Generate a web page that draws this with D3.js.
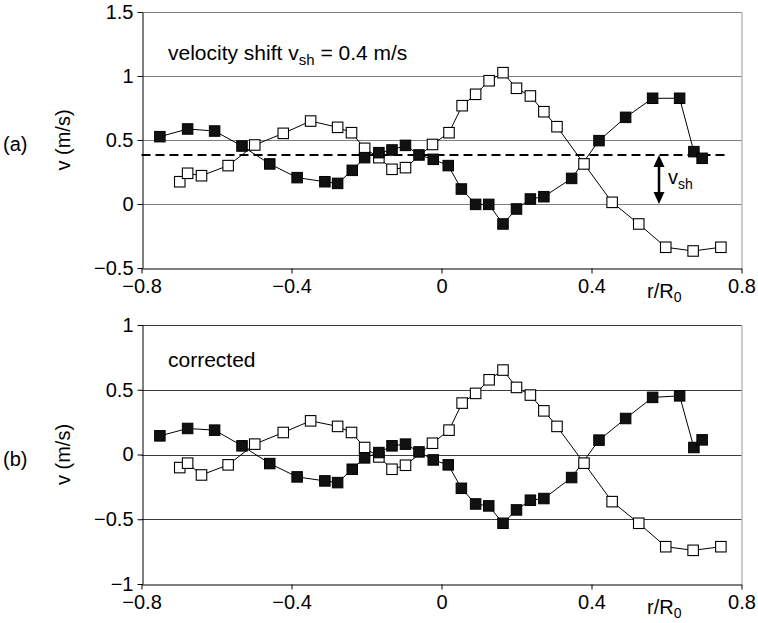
<!DOCTYPE html>
<html>
<head>
<meta charset="utf-8">
<script src="https://cdn.jsdelivr.net/npm/d3@7/dist/d3.min.js"></script>
<style>
  body { margin: 0; background: #fff; }
  svg { display: block; font-family: "Liberation Sans", Arial, sans-serif; }
</style>
</head>
<body>
<div id="chart"></div>
<script>
// r/R0 positions of the two probe series
var xFilled = [-0.751, -0.677, -0.605, -0.532, -0.458, -0.385, -0.311, -0.277, -0.238, -0.205,
  -0.167, -0.132, -0.096, -0.06, -0.022, 0.018, 0.053, 0.091, 0.126, 0.164,
  0.2, 0.237, 0.273, 0.347, 0.42, 0.491, 0.563, 0.635, 0.673, 0.695];
var xOpen = [-0.698, -0.677, -0.64, -0.569, -0.498, -0.422, -0.349, -0.277, -0.24, -0.205,
  -0.167, -0.132, -0.096, -0.024, 0.02, 0.055, 0.091, 0.127, 0.164, 0.2,
  0.237, 0.273, 0.308, 0.38, 0.455, 0.526, 0.598, 0.671, 0.745];

// (a) raw velocities
var rawFilled = [0.526, 0.586, 0.57, 0.453, 0.313, 0.206, 0.174, 0.161, 0.263, 0.362,
  0.401, 0.422, 0.458, 0.383, 0.349, 0.3, 0.117, -0.003, -0.003, -0.156,
  -0.039, 0.039, 0.057, 0.2, 0.495, 0.677, 0.826, 0.826, 0.409, 0.357];
var rawOpen = [0.174, 0.24, 0.221, 0.3, 0.461, 0.552, 0.648, 0.599, 0.557, 0.435,
  0.362, 0.271, 0.284, 0.465, 0.557, 0.768, 0.857, 0.963, 1.026, 0.904,
  0.844, 0.721, 0.604, 0.313, 0.013, -0.156, -0.338, -0.367, -0.338];

// (b) corrected velocities
var corrFilled = [0.144, 0.201, 0.188, 0.067, -0.07, -0.173, -0.204, -0.217, -0.114, -0.026,
  0.015, 0.067, 0.08, 0.02, -0.042, -0.08, -0.261, -0.382, -0.397, -0.531,
  -0.428, -0.353, -0.34, -0.178, 0.111, 0.278, 0.441, 0.453, 0.054, 0.113];
var corrOpen = [-0.101, -0.067, -0.158, -0.08, 0.08, 0.17, 0.26, 0.217, 0.17, 0.054,
  -0.019, -0.114, -0.083, 0.087, 0.188, 0.397, 0.472, 0.577, 0.652, 0.518,
  0.459, 0.337, 0.217, -0.067, -0.364, -0.531, -0.712, -0.74, -0.712];

var vShift = 0.383;
var dashedRange = [-0.8, 0.758];
var arrowX = 0.58;

var xTicks = [-0.8, -0.4, 0, 0.4, 0.8];
var yTicksA = [-0.5, 0, 0.5, 1, 1.5];
var yTicksB = [-1, -0.5, 0, 0.5, 1];

var W = 758, H = 623, FS = 20;
var svg = d3.select('#chart').append('svg')
  .attr('width', W).attr('height', H);

var fmt = function(d){ return d < 0 ? '\u2212' + Math.abs(d) : String(d); };

var x = d3.scaleLinear().domain([-0.8, 0.8]).range([141.5, 741.5]);

function drawPanel(cfg){
  var y = d3.scaleLinear().domain([cfg.yTicks[0], cfg.yTicks[cfg.yTicks.length-1]])
    .range([cfg.bottom, cfg.top]);
  var g = svg.append('g');

  // grid lines
  g.selectAll('line.grid')
    .data(cfg.yTicks.filter(function(d){ return d !== cfg.yTicks[0]; }))
    .enter().append('line')
    .attr('class', 'grid')
    .attr('x1', x(-0.8)).attr('x2', x(0.8))
    .attr('y1', function(d){ return Math.round(y(d)) + 0.5; })
    .attr('y2', function(d){ return Math.round(y(d)) + 0.5; })
    .attr('stroke', cfg.gridColor).attr('stroke-width', 1);

  // right frame
  g.append('line')
    .attr('x1', x(0.8) + 0.5).attr('x2', x(0.8) + 0.5)
    .attr('y1', y(cfg.yTicks[cfg.yTicks.length-1])).attr('y2', y(cfg.yTicks[0]))
    .attr('stroke', '#999').attr('stroke-width', 1);

  // axes
  var yAxis = d3.axisLeft(y).tickValues(cfg.yTicks).tickFormat(fmt)
    .tickSizeInner(5).tickSizeOuter(0).tickPadding(4);
  var gy = g.append('g')
    .attr('transform', 'translate(' + (Math.round(x(-0.8)) + 0.5) + ',0)')
    .call(yAxis);
  var xAxis = d3.axisBottom(x).tickValues(xTicks).tickFormat(fmt)
    .tickSizeInner(5).tickSizeOuter(0).tickPadding(5);
  var gx = g.append('g')
    .attr('transform', 'translate(0,' + (Math.round(y(cfg.yTicks[0])) + 0.5) + ')')
    .call(xAxis);
  [gx, gy].forEach(function(a){
    a.selectAll('path, line').attr('stroke', '#000');
    a.selectAll('text').attr('font-size', FS).attr('fill', '#000')
      .attr('font-family', '"Liberation Sans", Arial, sans-serif');
  });

  // r/R0 label
  var rl = g.append('text')
    .attr('x', 647).attr('y', y(cfg.yTicks[0]) + 30)
    .attr('font-size', FS);
  rl.append('tspan').text('r/R');
  rl.append('tspan').attr('font-size', 14).attr('dy', 4).text('0');

  // y label and panel letter
  var cy = y(cfg.yTicks[2]);
  g.append('text')
    .attr('transform', 'translate(70,' + cy + ') rotate(-90)')
    .attr('text-anchor', 'middle')
    .attr('font-size', FS)
    .text('v (m/s)');
  g.append('text')
    .attr('x', 3).attr('y', cy + 11)
    .attr('font-size', FS)
    .text(cfg.letter);

  if (cfg.shift) {
    g.append('line')
      .attr('x1', x(dashedRange[0])).attr('x2', x(dashedRange[1]))
      .attr('y1', y(vShift)).attr('y2', y(vShift))
      .attr('stroke', '#000').attr('stroke-width', 2)
      .attr('stroke-dasharray', '9,5');
  }

  // series
  var line = d3.line()
    .x(function(d){ return x(d[0]); })
    .y(function(d){ return y(d[1]); });
  var open = d3.zip(xOpen, cfg.open);
  var filled = d3.zip(xFilled, cfg.filled);
  var s = 10.5;

  g.append('path').datum(open).attr('d', line)
    .attr('fill', 'none').attr('stroke', '#000').attr('stroke-width', 1);
  g.selectAll('rect.open').data(open).enter().append('rect')
    .attr('class', 'open')
    .attr('x', function(d){ return x(d[0]) - s/2; })
    .attr('y', function(d){ return y(d[1]) - s/2; })
    .attr('width', s).attr('height', s)
    .attr('fill', '#fff').attr('stroke', '#000').attr('stroke-width', 1.1);

  g.append('path').datum(filled).attr('d', line)
    .attr('fill', 'none').attr('stroke', '#000').attr('stroke-width', 1);
  g.selectAll('rect.filled').data(filled).enter().append('rect')
    .attr('class', 'filled')
    .attr('x', function(d){ return x(d[0]) - s/2; })
    .attr('y', function(d){ return y(d[1]) - s/2; })
    .attr('width', s).attr('height', s)
    .attr('fill', '#111').attr('stroke', '#000').attr('stroke-width', 1);

  // open square at crossing kept visible
  g.selectAll('rect.open').filter(function(d){ return d[0] === 0.38; }).raise();

  return y;
}

var yA = drawPanel({
  top: 12, bottom: 268, yTicks: yTicksA, gridColor: '#808080',
  filled: rawFilled, open: rawOpen, letter: '(a)', shift: true
});
var yB = drawPanel({
  top: 325, bottom: 584, yTicks: yTicksB, gridColor: '#3a3a3a',
  filled: corrFilled, open: corrOpen, letter: '(b)', shift: false
});

// annotation texts
var t1 = svg.append('text').attr('x', 168).attr('y', 60).attr('font-size', 21);
t1.append('tspan').text('velocity shift v');
t1.append('tspan').attr('font-size', 15).attr('dy', 5).text('sh');
t1.append('tspan').attr('dy', -5).text(' = 0.4 m/s');

svg.append('text').attr('x', 168).attr('y', 367).attr('font-size', 21).text('corrected');

// double arrow for v_sh
var ax = x(arrowX), ya0 = yA(vShift), ya1 = yA(0);
var head = 12, hw = 5.5;
svg.append('line')
  .attr('x1', ax).attr('x2', ax)
  .attr('y1', ya0 + head - 1).attr('y2', ya1 - head + 1)
  .attr('stroke', '#000').attr('stroke-width', 2.5);
svg.append('path')
  .attr('d', 'M' + ax + ',' + ya0 + 'L' + (ax - hw) + ',' + (ya0 + head) + 'L' + (ax + hw) + ',' + (ya0 + head) + 'Z')
  .attr('fill', '#000');
svg.append('path')
  .attr('d', 'M' + ax + ',' + ya1 + 'L' + (ax - hw) + ',' + (ya1 - head) + 'L' + (ax + hw) + ',' + (ya1 - head) + 'Z')
  .attr('fill', '#000');
var tv = svg.append('text').attr('x', ax + 9).attr('y', yA(0.16)).attr('font-size', FS);
tv.append('tspan').text('v');
tv.append('tspan').attr('font-size', 14).attr('dy', 5).text('sh');
</script>
</body>
</html>
